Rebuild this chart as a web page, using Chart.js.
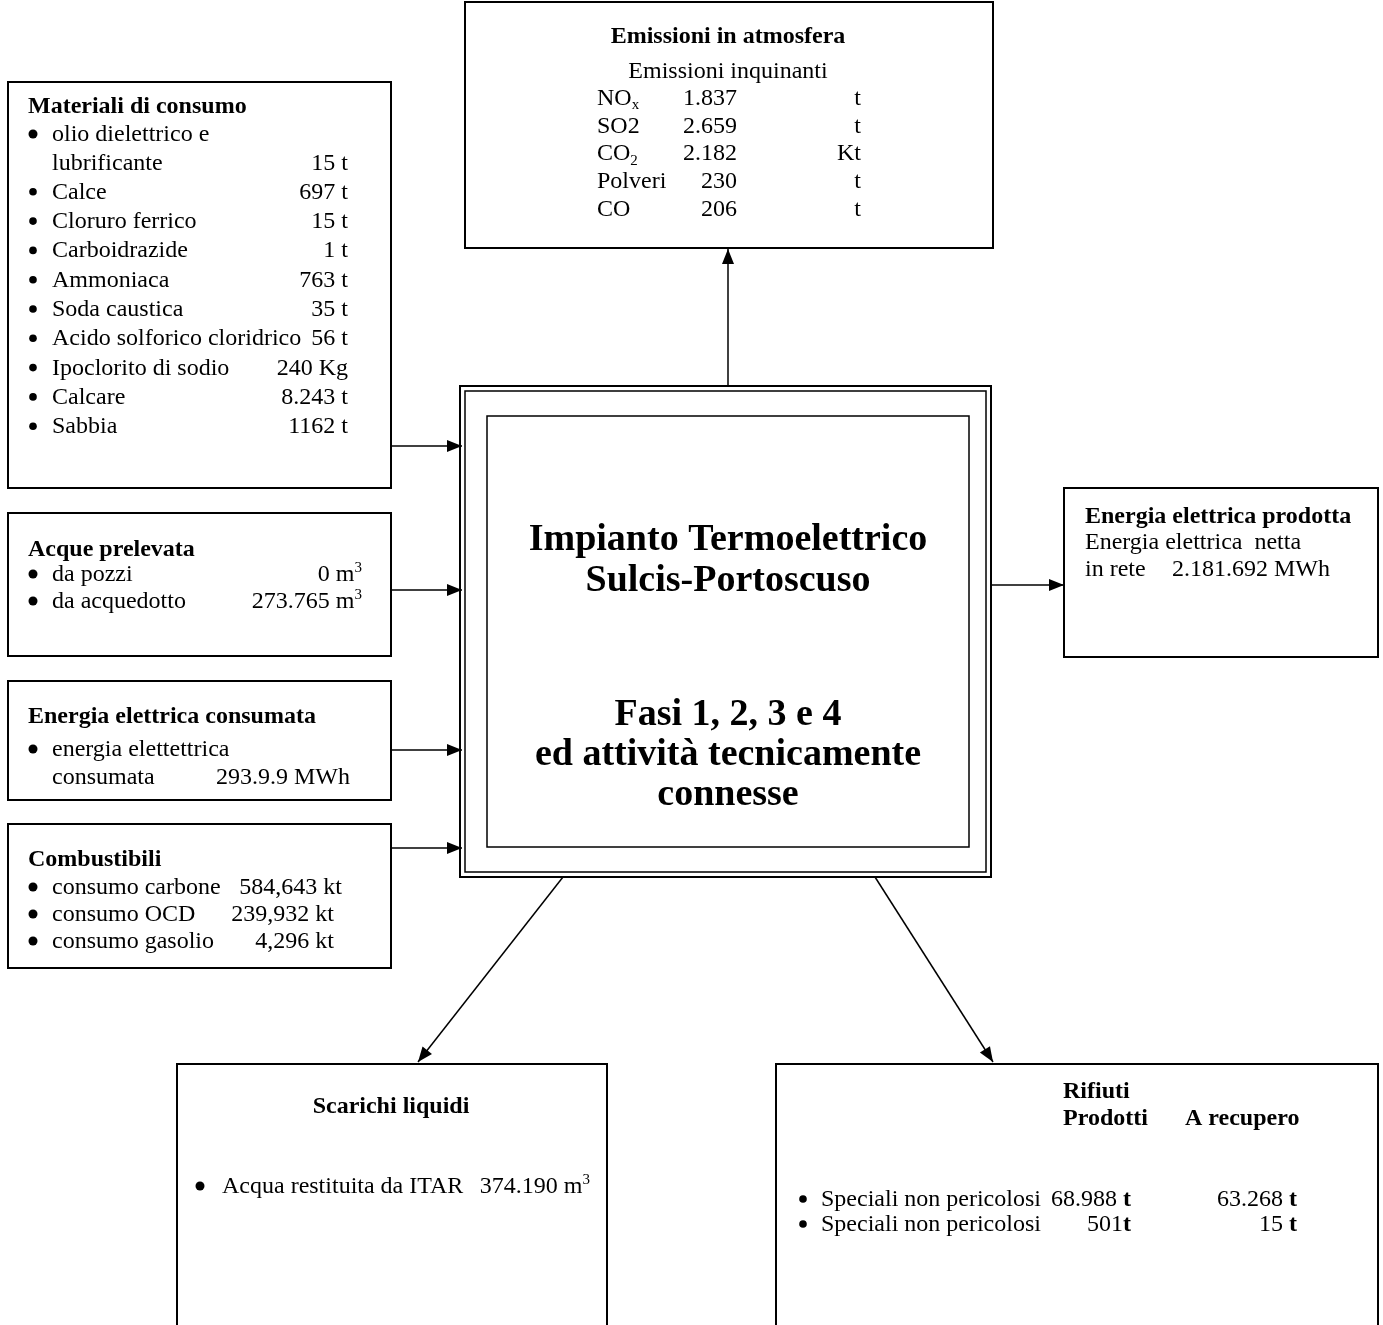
<!DOCTYPE html>
<html>
<head>
<meta charset="utf-8">
<script src="https://cdn.jsdelivr.net/npm/chart.js@4.4.1/dist/chart.umd.min.js"></script>
<style>
  html, body { margin: 0; padding: 0; background: #fff; }
  #wrap { width: 1383px; height: 1325px; }
</style>
</head>
<body>
<div id="wrap"><canvas id="flowChart" width="1383" height="1325"></canvas></div>
<script>
var materialNames = ['olio dielettrico e\nlubrificante', 'Calce', 'Cloruro ferrico', 'Carboidrazide', 'Ammoniaca', 'Soda caustica', 'Acido solforico cloridrico', 'Ipoclorito di sodio', 'Calcare', 'Sabbia'];
var materialValues = ['15 t', '697 t', '15 t', '1 t', '763 t', '35 t', '56 t', '240 Kg', '8.243 t', '1162 t'];

var waterNames = ['da pozzi', 'da acquedotto'];
var waterValues = ['0 m^3', '273.765 m^3'];

var energyInNames = ['energia elettettrica\nconsumata'];
var energyInValues = ['293.9.9 MWh'];

var fuelNames = ['consumo carbone', 'consumo OCD', 'consumo gasolio'];
var fuelValues = ['584,643 kt', '239,932 kt', '4,296 kt'];

var emissionNames = ['NO_x', 'SO2', 'CO_2', 'Polveri', 'CO'];
var emissionValues = ['1.837', '2.659', '2.182', '230', '206'];
var emissionUnits = ['t', 't', 'Kt', 't', 't'];

var energyOutLines = ['Energia elettrica  netta', 'in rete'];
var energyOutValue = '2.181.692 MWh';

var dischargeNames = ['Acqua restituita da ITAR'];
var dischargeValues = ['374.190 m^3'];

var wasteColumns = ['Prodotti', 'A recupero'];
var wasteNames = ['Speciali non pericolosi', 'Speciali non pericolosi'];
var wasteProduced = ['68.988 *t*', '501*t*'];
var wasteRecovered = ['63.268 *t*', '15 *t*'];

var plantTitle = ['Impianto Termoelettrico', 'Sulcis-Portoscuso'];
var plantSubtitle = ['Fasi 1, 2, 3 e 4', 'ed attività tecnicamente', 'connesse'];

// ── Layout (coordinate dello schema) ──
var W = 1383, H = 1325;
var SERIF = '"Liberation Serif", "Times New Roman", serif';
var FS = 24;

var boxes = {
    materiali: { x: 8, y: 82, w: 383, h: 406 },
    acque: { x: 8, y: 513, w: 383, h: 143 },
    energiaIn: { x: 8, y: 681, w: 383, h: 119 },
    combustibili: { x: 8, y: 824, w: 383, h: 144 },
    emissioni: { x: 465, y: 2, w: 528, h: 246 },
    energiaOut: { x: 1064, y: 488, w: 314, h: 169 },
    scarichi: { x: 177, y: 1064, w: 430, h: 270 },
    rifiuti: { x: 776, y: 1064, w: 602, h: 270 },
    impianto: { x: 460, y: 386, w: 531, h: 491 },
    impiantoInner: { x: 487, y: 416, w: 482, h: 431 }
};

var arrows = [
    [[391, 446], [462, 446]],
    [[391, 590], [462, 590]],
    [[391, 750], [462, 750]],
    [[391, 848], [462, 848]],
    [[728, 386], [728, 249]],
    [[991, 585], [1064, 585]],
    [[563, 877], [418, 1062]],
    [[875, 877], [993, 1062]]
];

// ── Rich text helpers (^x apice, _x pedice, *..* grassetto) ──
function parseRich(str) {
    var segs = [], bold = false, i = 0, buf = '';
    function flush() { if (buf) { segs.push({ t: buf, mode: 'n', bold: bold }); buf = ''; } }
    while (i < str.length) {
        var c = str[i];
        if ((c === '^' || c === '_') && i + 1 < str.length) {
            flush();
            segs.push({ t: str[i + 1], mode: c === '^' ? 'sup' : 'sub', bold: bold });
            i += 2; continue;
        }
        if (c === '*') { flush(); bold = !bold; i++; continue; }
        buf += c; i++;
    }
    flush();
    return segs;
}

function segFont(seg, size, baseBold) {
    var s = seg.mode === 'n' ? size : Math.round(size * 0.62);
    return ((baseBold || seg.bold) ? 'bold ' : '') + s + 'px ' + SERIF;
}

function richText(ctx, str, x, y, opts) {
    opts = opts || {};
    var size = opts.size || FS, align = opts.align || 'left';
    var segs = parseRich(str), total = 0;
    segs.forEach(function(s) { ctx.font = segFont(s, size, opts.bold); s.w = ctx.measureText(s.t).width; total += s.w; });
    var cx = align === 'right' ? x - total : align === 'center' ? x - total / 2 : x;
    ctx.textAlign = 'left';
    ctx.textBaseline = 'alphabetic';
    segs.forEach(function(s) {
        ctx.font = segFont(s, size, opts.bold);
        var dy = s.mode === 'sup' ? -size * 0.38 : s.mode === 'sub' ? size * 0.18 : 0;
        ctx.fillText(s.t, cx, y + dy);
        cx += s.w;
    });
}

// ── Plugin: riquadri, testi e punte delle frecce ──
var diagramPlugin = {
    id: 'diagram',
    afterDatasetsDraw: function(chart) {
        var ctx = chart.ctx, sx = chart.scales.x, sy = chart.scales.y;
        function px(v) { return sx.getPixelForValue(v); }
        function py(v) { return sy.getPixelForValue(v); }
        function rect(b, inset, lw) {
            ctx.lineWidth = lw;
            var x0 = px(b.x + inset), y0 = py(b.y + inset), x1 = px(b.x + b.w - inset), y1 = py(b.y + b.h - inset);
            ctx.strokeRect(x0, y0, x1 - x0, y1 - y0);
        }
        function txt(s, x, y, o) { richText(ctx, s, px(x), py(y), o); }
        function bullet(x, y, r) { ctx.beginPath(); ctx.arc(px(x), py(y) - 7, r || 4.5, 0, Math.PI * 2); ctx.fill(); }

        ctx.save();
        ctx.strokeStyle = '#000';
        ctx.fillStyle = '#000';

        Object.keys(boxes).forEach(function(k) {
            if (k === 'impianto') { rect(boxes[k], 0, 2); rect(boxes[k], 5, 1.5); }
            else rect(boxes[k], 0, k === 'impiantoInner' ? 1.5 : 2);
        });

        // arrowheads
        arrows.forEach(function(a) {
            var x0 = px(a[0][0]), y0 = py(a[0][1]), x1 = px(a[1][0]), y1 = py(a[1][1]);
            var ang = Math.atan2(y1 - y0, x1 - x0), L = 15, hw = 6;
            ctx.beginPath();
            ctx.moveTo(x1, y1);
            ctx.lineTo(x1 - L * Math.cos(ang) + hw * Math.sin(ang), y1 - L * Math.sin(ang) - hw * Math.cos(ang));
            ctx.lineTo(x1 - L * Math.cos(ang) - hw * Math.sin(ang), y1 - L * Math.sin(ang) + hw * Math.cos(ang));
            ctx.closePath();
            ctx.fill();
        });

        // Materiali di consumo
        txt('Materiali di consumo', 28, 113, { bold: true });
        var y = 141;
        materialNames.forEach(function(n, i) {
            var parts = n.split('\n');
            bullet(33, y, i === 0 ? 4.5 : 3.8);
            parts.forEach(function(p, j) {
                txt(p, 52, y, {});
                if (j === parts.length - 1) txt(materialValues[i], 348, y, { align: 'right' });
                if (j < parts.length - 1) y += 28.5;
            });
            y += 29.3;
        });

        // Acque prelevata
        txt('Acque prelevata', 28, 556, { bold: true });
        waterNames.forEach(function(n, i) {
            var yy = 581 + i * 27;
            bullet(33, yy);
            txt(n, 52, yy, {});
            txt(waterValues[i], 362, yy, { align: 'right' });
        });

        // Energia elettrica consumata
        txt('Energia elettrica consumata', 28, 723, { bold: true });
        energyInNames.forEach(function(n, i) {
            var parts = n.split('\n');
            bullet(33, 756);
            txt(parts[0], 52, 756, {});
            txt(parts[1], 52, 784, {});
            txt(energyInValues[i], 350, 784, { align: 'right' });
        });

        // Combustibili
        txt('Combustibili', 28, 866, { bold: true });
        var fuelRight = [342, 334, 334];
        fuelNames.forEach(function(n, i) {
            var yy = 894 + i * 27;
            bullet(33, yy);
            txt(n, 52, yy, {});
            txt(fuelValues[i], fuelRight[i], yy, { align: 'right' });
        });

        // Emissioni in atmosfera
        txt('Emissioni in atmosfera', 728, 43, { bold: true, align: 'center' });
        txt('Emissioni inquinanti', 728, 78, { align: 'center' });
        emissionNames.forEach(function(n, i) {
            var yy = 105 + i * 27.7;
            txt(n, 597, yy, {});
            txt(emissionValues[i], 737, yy, { align: 'right' });
            txt(emissionUnits[i], 861, yy, { align: 'right' });
        });

        // Energia elettrica prodotta
        txt('Energia elettrica prodotta', 1085, 523, { bold: true });
        txt(energyOutLines[0], 1085, 549, {});
        txt(energyOutLines[1], 1085, 576, {});
        txt(energyOutValue, 1172, 576, {});

        // Scarichi liquidi
        txt('Scarichi liquidi', 391, 1113, { bold: true, align: 'center' });
        dischargeNames.forEach(function(n, i) {
            bullet(200, 1193);
            txt(n, 222, 1193, {});
            txt(dischargeValues[i], 590, 1193, { align: 'right' });
        });

        // Rifiuti
        txt('Rifiuti', 1063, 1098, { bold: true });
        txt(wasteColumns[0], 1063, 1125, { bold: true });
        txt(wasteColumns[1], 1185, 1125, { bold: true });
        wasteNames.forEach(function(n, i) {
            var yy = 1206 + i * 25;
            bullet(803, yy, 3.8);
            txt(n, 821, yy, {});
            txt(wasteProduced[i], 1131, yy, { align: 'right' });
            txt(wasteRecovered[i], 1297, yy, { align: 'right' });
        });

        // Impianto
        plantTitle.forEach(function(t, i) { txt(t, 728, 550 + i * 41, { bold: true, size: 38, align: 'center' }); });
        plantSubtitle.forEach(function(t, i) { txt(t, 728, 725 + i * 40, { bold: true, size: 38, align: 'center' }); });

        ctx.restore();
    }
};

// ── Frecce come serie di linee sulle scale del grafico ──
var arrowDatasets = arrows.map(function(a) {
    return {
        data: [{ x: a[0][0], y: a[0][1] }, { x: a[1][0], y: a[1][1] }],
        showLine: true, borderColor: '#000', borderWidth: 1.5, pointRadius: 0, fill: false
    };
});

new Chart(document.getElementById('flowChart').getContext('2d'), {
    type: 'scatter',
    data: { datasets: arrowDatasets },
    options: {
        responsive: false, animation: false, devicePixelRatio: 1, events: [],
        layout: { padding: 0 },
        plugins: { legend: { display: false }, tooltip: { enabled: false } },
        scales: {
            x: { type: 'linear', min: 0, max: W, display: false },
            y: { type: 'linear', min: 0, max: H, reverse: true, display: false }
        }
    },
    plugins: [diagramPlugin]
});
</script>
</body>
</html>
